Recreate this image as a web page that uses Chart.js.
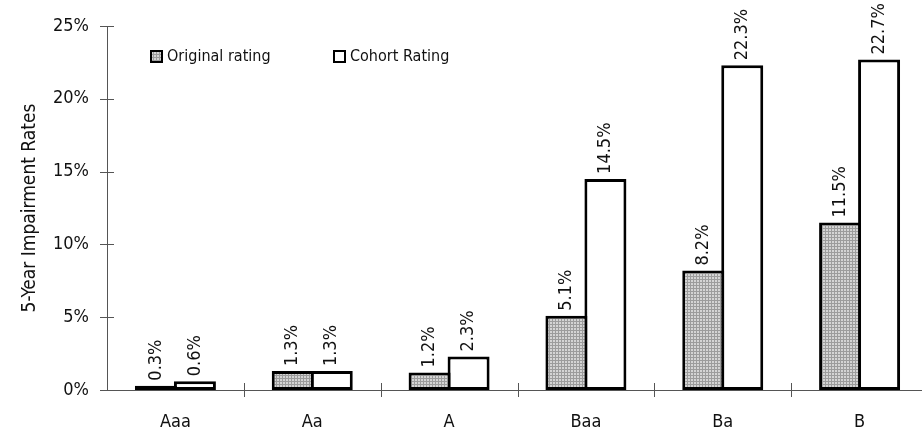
<!DOCTYPE html>
<html>
<head>
<meta charset="utf-8">
<script src="https://cdn.jsdelivr.net/npm/chart.js@4.4.1/dist/chart.umd.min.js"></script>
<style>
  html, body { margin: 0; padding: 0; background: #fff; overflow: hidden; }
  #wrap { position: relative; width: 928px; height: 435px; }
</style>
</head>
<body>
<div id="wrap"><canvas id="impairment-chart"></canvas></div>
<script>
// data
const ratings = ["Aaa", "Aa", "A", "Baa", "Ba", "B"];
const originalRating = [0.3, 1.3, 1.2, 5.1, 8.2, 11.5];
const cohortRating = [0.6, 1.3, 2.3, 14.5, 22.3, 22.7];
const seriesNames = ["Original rating", "Cohort Rating"];
const yTicks = [0, 5, 10, 15, 20, 25];

const FONT = "'Liberation Sans Narrow', 'DejaVu Sans Condensed', 'Arial Narrow', sans-serif";

// grey dotted fill like the old excel pattern
function makePattern() {
  const c = document.createElement("canvas");
  c.width = 3; c.height = 3;
  const g = c.getContext("2d");
  g.fillStyle = "#d4d4d4";
  g.fillRect(0, 0, 3, 3);
  g.fillStyle = "#9c9c9c";
  g.fillRect(0, 0, 3, 1);
  g.fillRect(0, 0, 1, 3);
  return g.createPattern(c, "repeat");
}
const greyPattern = makePattern();

// ticks that cross the axis lines
const crossTicks = {
  id: "crossTicks",
  afterDraw(chart) {
    const ctx = chart.ctx;
    const x = chart.scales.x, y = chart.scales.y;
    ctx.save();
    ctx.strokeStyle = "#555";
    ctx.lineWidth = 1;
    ctx.beginPath();
    yTicks.forEach(v => {
      const py = Math.round(y.getPixelForValue(v)) + 0.5;
      ctx.moveTo(x.left - 7, py);
      ctx.lineTo(x.left + 7, py);
    });
    for (let i = 1; i < ratings.length; i++) {
      const px = Math.round((x.getPixelForValue(i - 1) + x.getPixelForValue(i)) / 2) + 0.5;
      ctx.moveTo(px, y.bottom - 7);
      ctx.lineTo(px, y.bottom + 7);
    }
    ctx.stroke();
    ctx.restore();
  }
};

// rotated value labels above each bar
const barLabels = {
  id: "barLabels",
  afterDatasetsDraw(chart) {
    const ctx = chart.ctx;
    ctx.save();
    ctx.font = "18px " + FONT;
    ctx.fillStyle = "#111";
    ctx.textAlign = "left";
    ctx.textBaseline = "middle";
    chart.data.datasets.forEach((ds, di) => {
      chart.getDatasetMeta(di).data.forEach((bar, i) => {
        ctx.save();
        ctx.translate(bar.x, bar.y - 5);
        ctx.rotate(-Math.PI / 2);
        ctx.fillText(ds.data[i].toFixed(1) + "%", 0, 0);
        ctx.restore();
      });
    });
    ctx.restore();
  }
};

// legend sits inside the plot, top-left
const innerLegend = {
  id: "innerLegend",
  afterDraw(chart) {
    const ctx = chart.ctx;
    const area = chart.chartArea;
    const fills = [greyPattern, "#fff"];
    const offsets = [44, 227];
    ctx.save();
    ctx.font = "16px " + FONT;
    ctx.textBaseline = "middle";
    seriesNames.forEach((name, i) => {
      const bx = area.left + offsets[i];
      const by = area.top + 25;
      ctx.fillStyle = fills[i];
      ctx.fillRect(bx, by, 11, 11);
      ctx.strokeStyle = "#000";
      ctx.lineWidth = 2;
      ctx.strokeRect(bx, by, 11, 11);
      ctx.fillStyle = "#111";
      ctx.fillText(name, bx + 16, by + 6);
    });
    ctx.restore();
  }
};

const barStyle = {
  borderColor: "#000",
  borderWidth: 3,
  borderSkipped: false,
  categoryPercentage: 0.57,
  barPercentage: 1.077
};

const ctx = document.getElementById("impairment-chart").getContext("2d");
new Chart(ctx, {
  type: "bar",
  data: {
    labels: ratings,
    datasets: [
      Object.assign({ label: seriesNames[0], data: originalRating, backgroundColor: greyPattern }, barStyle),
      Object.assign({ label: seriesNames[1], data: cohortRating, backgroundColor: "#fff" }, barStyle)
    ]
  },
  options: {
    responsive: true,
    maintainAspectRatio: false,
    animation: false,
    layout: { padding: { top: 26, right: 0, left: 0, bottom: 0 } },
    plugins: {
      legend: { display: false },
      tooltip: { enabled: false }
    },
    scales: {
      x: {
        offset: true,
        grid: { display: false, drawTicks: false },
        border: { color: "#555", width: 1 },
        ticks: {
          color: "#111",
          font: { family: FONT, size: 18 },
          padding: 22
        },
        afterFit(scale) { scale.height = 45; }
      },
      y: {
        min: 0,
        max: 25,
        afterBuildTicks(scale) { scale.ticks = yTicks.map(v => ({ value: v })); },
        grid: { display: false, drawTicks: false },
        border: { color: "#555", width: 1 },
        ticks: {
          color: "#111",
          font: { family: FONT, size: 18 },
          padding: 18,
          callback: v => v + "%"
        },
        title: {
          display: true,
          text: "5-Year Impairment Rates",
          color: "#111",
          font: { family: FONT, size: 19 },
          padding: { top: 19, bottom: 0 }
        },
        afterFit(scale) {
          scale.width = 107;
          // tick padding otherwise pushes the plot top down
          scale.paddingTop = 0;
          scale.paddingBottom = 0;
        }
      }
    }
  },
  plugins: [crossTicks, barLabels, innerLegend]
});
</script>
</body>
</html>
